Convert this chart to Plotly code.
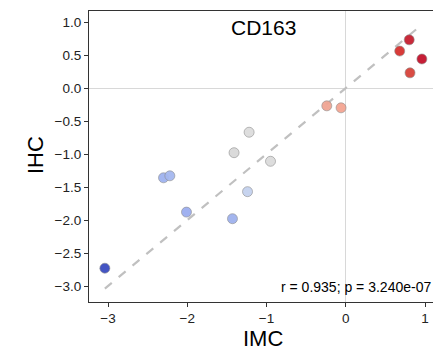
import plotly.graph_objects as go

imc = [-3.04, -2.30, -2.22, -2.01, -1.43, -1.24, -0.95, -1.41, -1.22, -0.24, -0.06, 0.68, 0.80, 0.96, 0.81]
ihc = [-2.73, -1.36, -1.33, -1.88, -1.98, -1.57, -1.11, -0.98, -0.67, -0.27, -0.30, 0.56, 0.73, 0.44, 0.23]
colors = ["#3b4cc0", "#9fb3f0", "#a5b8f0", "#9badf0", "#9fb2ee", "#c5d2ef", "#dcdcdc", "#d9d9d9",
          "#dddddd", "#f0a593", "#f4a592", "#d6312f", "#c71f30", "#c4132c", "#d8433a"]
title = "CD163"
stat_text = "r = 0.935; p = 3.240e-07"
x_label = "IMC"
y_label = "IHC"

lo, hi = min(imc), max(imc)
FONT = "Liberation Sans, Arial"

fig = go.Figure()
fig.add_trace(go.Scatter(x=[lo, hi], y=[lo, hi], mode="lines",
                         line=dict(color="#c0c0c0", width=2.2, dash="dash"),
                         hoverinfo="skip", showlegend=False))
fig.add_trace(go.Scatter(x=imc, y=ihc, mode="markers",
                         marker=dict(size=10, color=colors, opacity=0.95,
                                     line=dict(color="#888888", width=0.6)),
                         showlegend=False))

fig.add_annotation(text=title, x=(263 - 89) / 344, y=1 - (27 - 11) / 291, xref="paper", yref="paper",
                   xanchor="center", yanchor="middle", showarrow=False,
                   font=dict(size=21, color="black", family=FONT))
fig.add_annotation(text=stat_text, x=1, y=1 - (287 - 11) / 291, xref="paper", yref="paper",
                   xanchor="right", yanchor="middle", showarrow=False,
                   font=dict(size=14, color="black", family=FONT))
fig.add_annotation(text=x_label, x=(263 - 89) / 344, y=-(338 - 302) / 291, xref="paper", yref="paper",
                   xanchor="center", yanchor="middle", showarrow=False,
                   font=dict(size=22, color="black", family=FONT))
fig.add_annotation(text=y_label, x=-(89 - 35) / 344, y=1 - (155 - 11) / 291, xref="paper", yref="paper",
                   xanchor="center", yanchor="middle", showarrow=False, textangle=-90,
                   font=dict(size=22, color="black", family=FONT))

axis_common = dict(showline=True, linecolor="#333333", linewidth=1.2,
                   ticks="outside", ticklen=4, tickcolor="#333333", tickwidth=1,
                   tickfont=dict(size=13.5, color="#222222", family=FONT),
                   showgrid=False, zeroline=True, zerolinecolor="#d8d8d8", zerolinewidth=1,
                   automargin=False)

fig.update_xaxes(range=[-3.24, 1.10], tickvals=[-3, -2, -1, 0, 1],
                 ticktext=["\u22123", "\u22122", "\u22121", "0", "1"],
                 mirror=True, **axis_common)
fig.update_yaxes(range=[-3.242, 1.167], tickvals=[1.0, 0.5, 0.0, -0.5, -1.0, -1.5, -2.0, -2.5, -3.0],
                 ticktext=["1.0", "0.5", "0.0", "\u22120.5", "\u22121.0", "\u22121.5", "\u22122.0", "\u22122.5", "\u22123.0"],
                 mirror=False, **axis_common)

fig.update_layout(width=433, height=348, margin=dict(l=89, r=0, t=11, b=46),
                  plot_bgcolor="white", paper_bgcolor="white",
                  font=dict(family=FONT))

fig.write_html("out.html", config={"displayModeBar": False},
               post_script="document.body.style.margin='0';document.body.style.overflow='hidden';")
